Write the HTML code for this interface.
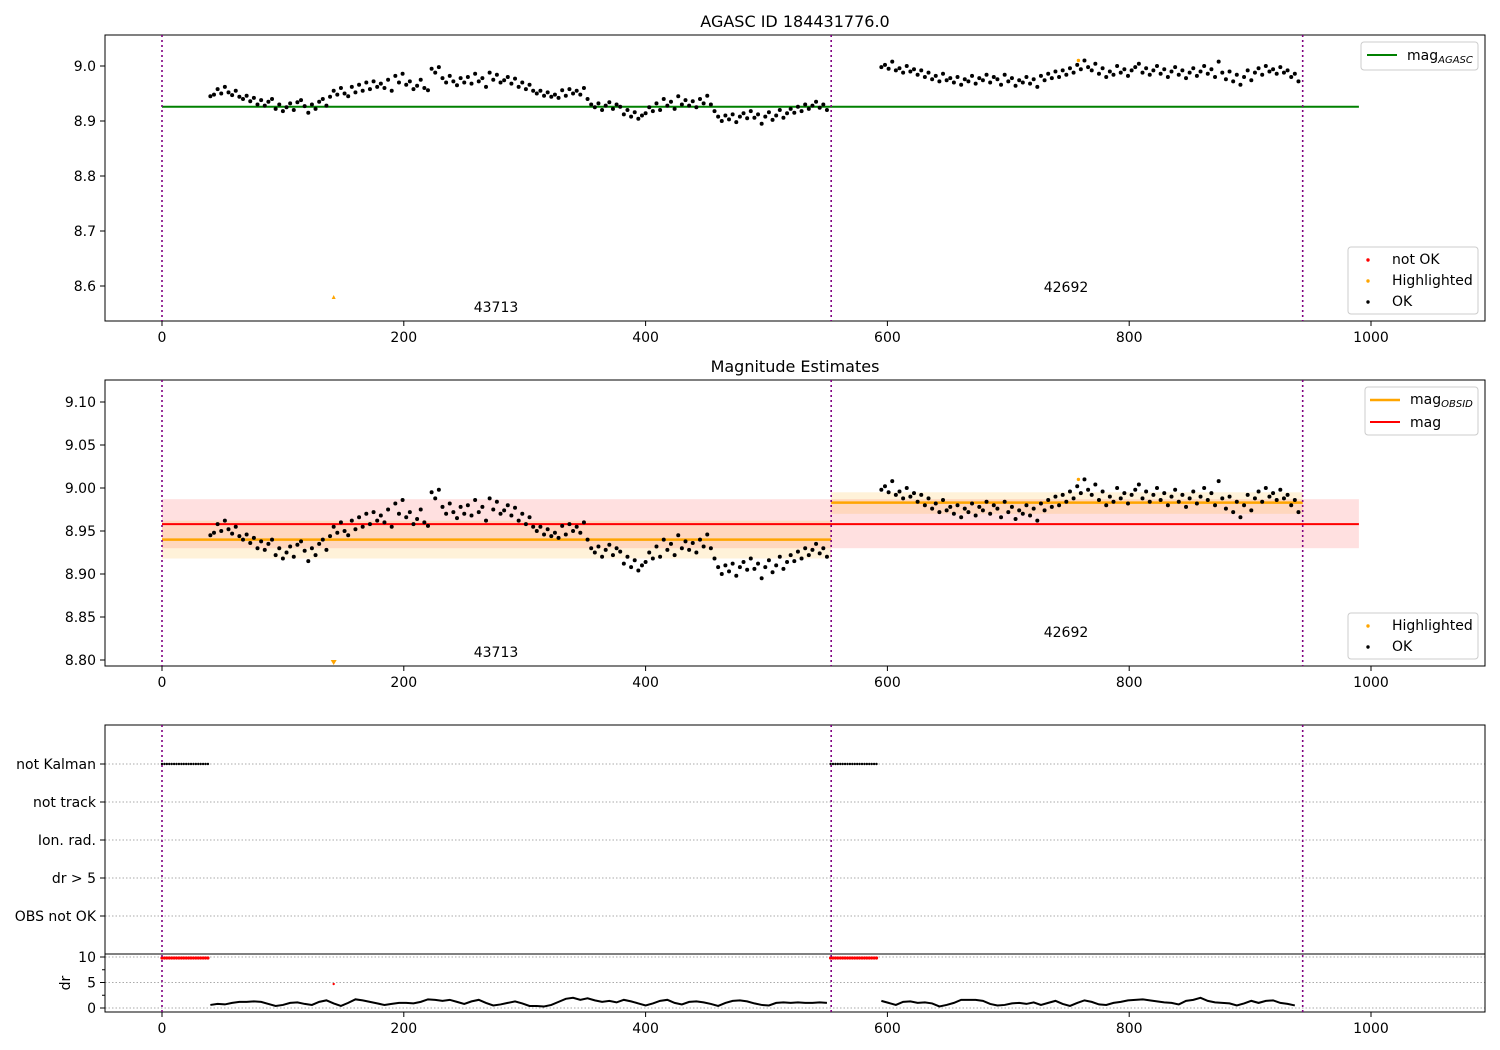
<!DOCTYPE html>
<html><head><meta charset="utf-8"><style>
body{margin:0;background:#fff;}
svg{display:block;font-family:"DejaVu Sans","Liberation Sans",sans-serif;}
</style></head><body>
<svg id="c" width="1500" height="1050" xmlns="http://www.w3.org/2000/svg"></svg>
<script>
// ---- data ----
const obs1Start = 40, obs1Step = 3;
const obs1Mag = [45,48,58,50,62,52,47,55,44,40,46,36,42,30,38,28,35,40,22,30,18,25,32,20,34,38,27,15,30,22,35,40,28,44,55,48,60,50,45,62,52,66,55,70,58,72,62,68,60,75,55,82,70,86,66,72,58,64,75,60,56,95,88,98,78,70,82,72,65,78,70,80,68,86,72,78,62,88,75,84,70,74,80,68,77,62,70,58,66,55,50,55,46,52,44,48,42,56,46,58,50,55,48,60,40,30,25,32,20,28,34,22,30,26,12,20,8,16,4,10,14,25,18,32,20,40,28,35,22,45,30,38,28,36,25,40,32,46,30,18,8,0,10,3,12,-2,8,14,5,18,6,12,-5,8,16,2,10,20,6,14,22,15,26,18,30,22,28,35,24,30,20];
const obs2Start = 595, obs2Step = 3;
const obs2Mag = [98,102,95,108,92,96,88,100,90,94,84,92,80,88,76,82,72,86,74,78,70,80,66,76,72,82,68,78,74,84,70,80,76,66,84,72,78,64,74,70,80,68,76,62,82,74,86,78,90,80,92,84,96,88,102,94,110,98,92,104,86,96,80,90,84,100,88,94,82,92,98,104,88,96,84,92,100,86,94,80,90,98,84,92,78,88,96,82,90,100,86,94,80,108,88,76,90,72,84,66,80,92,74,88,96,84,100,90,94,86,98,88,92,80,86,72];
const drStep = 6;
const obs1Dr = [0.6,0.8,0.7,1.0,1.2,1.2,1.3,1.2,0.8,0.4,0.6,1.0,1.1,0.8,0.6,1.2,1.5,0.9,0.4,1.0,1.7,1.5,1.2,0.9,0.6,0.8,1.0,1.0,0.9,1.2,1.7,1.6,1.4,1.6,1.2,0.8,1.3,1.6,1.0,0.5,0.7,1.0,1.3,0.9,0.4,0.4,0.3,0.6,1.2,1.8,2.0,1.6,1.9,1.5,1.2,1.4,1.1,1.6,1.3,0.9,0.5,0.9,1.4,1.6,1.0,0.7,1.2,1.3,1.1,0.8,0.4,1.0,1.4,1.5,1.3,0.9,0.6,0.5,1.0,1.1,1.0,1.1,1.0,1.0,1.1,1.0];
const obs2Dr = [1.4,1.0,0.6,1.2,1.3,1.0,1.1,0.9,0.3,0.6,1.0,1.6,1.6,1.6,1.4,0.8,0.5,0.6,0.9,1.0,0.8,1.1,0.6,1.0,1.4,0.8,0.4,1.0,1.5,1.2,0.7,0.6,1.0,1.2,1.5,1.6,1.7,1.5,1.3,1.1,1.0,0.7,1.4,1.6,2.0,1.4,1.1,1.0,0.9,0.5,0.9,1.4,1.0,1.4,1.5,1.0,0.8,0.5];
const obsBounds = [0, 553.5, 943.5];
const obsIds = ["43713","42692"];
const magAgasc = 8.926, magMean = 8.958, magLo = 8.930, magHi = 8.987;
const obsMag = [8.940, 8.983], obsLo = [8.918, 8.970], obsHi = [8.962, 8.995];
const xTicks = [0,200,400,600,800,1000];
const y1Ticks = [8.6,8.7,8.8,8.9,9.0];
const y2Ticks = [8.80,8.85,8.90,8.95,9.00,9.05,9.10];
const catLabels = ["not Kalman","not track","Ion. rad.","dr > 5","OBS not OK"];
const drTicks = [0,5,10];
const notKalmanRanges = [[0,38],[553,592]];
const highlight = [142, 758, 9.01];

// ---- helpers ----
const svg = document.getElementById('c');
const NS = 'http://www.w3.org/2000/svg';
function el(tag, attrs, parent){const e=document.createElementNS(NS,tag);for(const k in attrs)e.setAttribute(k,attrs[k]);(parent||svg).appendChild(e);return e;}
function txt(s, attrs, parent){const e=el('text',attrs,parent);e.textContent=s;return e;}
const X = v => 162 + v*1.209;
const Y1 = v => 66 + (9.0-v)*550;
const Y2 = v => 402 + (9.10-v)*860;
const Yd = v => 1008 - v*5.1;
const catY = i => 764 + i*38;

function xAxis(yb, name){
  for(const t of xTicks){
    el('line',{x1:X(t),x2:X(t),y1:yb,y2:yb+5,stroke:'#000'});
    const l=txt(String(t),{x:X(t),y:yb+21,'font-size':14,'text-anchor':'middle'});
    
    
  }
}
function vlines(y0,y1){
  for(const b of obsBounds){
    const l=el('line',{x1:X(b),x2:X(b),y1:y0,y2:y1,stroke:'purple','stroke-width':1.6,'stroke-dasharray':'2,3'});
    
    
  }
}
function scatter(Y, g){
  obs1Mag.forEach((m,i)=>{const c=el('circle',{cx:X(obs1Start+i*obs1Step),cy:Y(8.9+m/1000),r:2,fill:'#000'},g);});
  obs2Mag.forEach((m,i)=>{const c=el('circle',{cx:X(obs2Start+i*obs2Step),cy:Y(8.9+m/1000),r:2,fill:'#000'},g);});
}
function legendBox(x,y,w,h,name){const r=el('rect',{x:x,y:y,width:w,height:h,rx:3,fill:'#fff','fill-opacity':0.8,stroke:'#ccc'});}

// ---- panel 1 ----
const p1 = el('g',{});


txt('AGASC ID 184431776.0',{x:795,y:27,'font-size':16,'text-anchor':'middle'},p1);
el('line',{x1:X(0),x2:X(990),y1:Y1(magAgasc),y2:Y1(magAgasc),stroke:'green','stroke-width':2},p1);
vlines(35,321);
scatter(Y1,p1);
el('circle',{cx:X(highlight[1]),cy:Y1(highlight[2]),r:1.7,fill:'orange'},p1);
el('path',{d:`M${X(highlight[0])-2},${Y1(8.58)+2}L${X(highlight[0])+2},${Y1(8.58)+2}L${X(highlight[0])},${Y1(8.58)-2}Z`,fill:'orange'},p1);
txt(obsIds[0],{x:496,y:312,'font-size':14,'text-anchor':'middle'},p1);
txt(obsIds[1],{x:1066,y:292,'font-size':14,'text-anchor':'middle'},p1);
el('rect',{x:105,y:35,width:1380,height:286,fill:'none',stroke:'#000'},p1);
for(const t of y1Ticks){el('line',{x1:100,x2:105,y1:Y1(t),y2:Y1(t),stroke:'#000'},p1);txt(t.toFixed(1),{x:96,y:Y1(t)+5,'font-size':14,'text-anchor':'end'},p1);}
xAxis(321,'x1');
legendBox(1361,42,117,28,'legend-agasc');
el('line',{x1:1367,x2:1397,y1:55,y2:55,stroke:'green','stroke-width':2});
const lg1=txt('mag',{x:1407,y:60,'font-size':14});const s1=el('tspan',{'font-size':10,'font-style':'italic',dy:3},lg1);s1.textContent='AGASC';
legendBox(1348,247,130,67,'legend-status');
el('circle',{cx:1368,cy:260,r:1.7,fill:'red'});txt('not OK',{x:1392,y:264,'font-size':14});
el('circle',{cx:1368,cy:281,r:1.7,fill:'orange'});txt('Highlighted',{x:1392,y:285,'font-size':14});
el('circle',{cx:1368,cy:302,r:1.7,fill:'#000'});txt('OK',{x:1392,y:306,'font-size':14});

// ---- panel 2 ----
const p2 = el('g',{});


txt('Magnitude Estimates',{x:795,y:372,'font-size':16,'text-anchor':'middle'},p2);
el('rect',{x:X(0),y:Y2(magHi),width:X(990)-X(0),height:Y2(magLo)-Y2(magHi),fill:'red','fill-opacity':0.12},p2);
for(let k=0;k<2;k++){
  el('rect',{x:X(obsBounds[k]),y:Y2(obsHi[k]),width:X(obsBounds[k+1])-X(obsBounds[k]),height:Y2(obsLo[k])-Y2(obsHi[k]),fill:'orange','fill-opacity':0.15},p2);
}
el('line',{x1:X(0),x2:X(990),y1:Y2(magMean),y2:Y2(magMean),stroke:'red','stroke-width':2},p2);
for(let k=0;k<2;k++){
  el('line',{x1:X(obsBounds[k]),x2:X(obsBounds[k+1]),y1:Y2(obsMag[k]),y2:Y2(obsMag[k]),stroke:'orange','stroke-width':2.5},p2);
}
vlines(380,666);
scatter(Y2,p2);
el('circle',{cx:X(highlight[1]),cy:Y2(highlight[2]),r:1.7,fill:'orange'},p2);
el('path',{d:`M${X(highlight[0])-3},660L${X(highlight[0])+3},660L${X(highlight[0])},665Z`,fill:'orange'},p2);
txt(obsIds[0],{x:496,y:657,'font-size':14,'text-anchor':'middle'},p2);
txt(obsIds[1],{x:1066,y:637,'font-size':14,'text-anchor':'middle'},p2);
el('rect',{x:105,y:380,width:1380,height:286,fill:'none',stroke:'#000'},p2);
for(const t of y2Ticks){el('line',{x1:100,x2:105,y1:Y2(t),y2:Y2(t),stroke:'#000'},p2);txt(t.toFixed(2),{x:96,y:Y2(t)+5,'font-size':14,'text-anchor':'end'},p2);}
xAxis(666,'x2');
legendBox(1365,387,113,48,'legend-mag');
el('line',{x1:1370,x2:1400,y1:400,y2:400,stroke:'orange','stroke-width':2.5});
const lg2=txt('mag',{x:1410,y:404,'font-size':14});const s2=el('tspan',{'font-size':10,'font-style':'italic',dy:3},lg2);s2.textContent='OBSID';
el('line',{x1:1370,x2:1400,y1:422,y2:422,stroke:'red','stroke-width':2});
txt('mag',{x:1410,y:427,'font-size':14});
legendBox(1348,613,130,46,'legend-status2');
el('circle',{cx:1368,cy:626,r:1.7,fill:'orange'});txt('Highlighted',{x:1392,y:630,'font-size':14});
el('circle',{cx:1368,cy:647,r:1.7,fill:'#000'});txt('OK',{x:1392,y:651,'font-size':14});

// ---- panel 3 ----
const p3 = el('g',{});


catLabels.forEach((c,i)=>{
  el('line',{x1:105,x2:1485,y1:catY(i),y2:catY(i),stroke:'#aaa','stroke-dasharray':'1.5,2'},p3);
  el('line',{x1:100,x2:105,y1:catY(i),y2:catY(i),stroke:'#000'},p3);
  txt(c,{x:96,y:catY(i)+5,'font-size':14,'text-anchor':'end'},p3);
});
for(const t of drTicks){
  el('line',{x1:105,x2:1485,y1:Yd(t),y2:Yd(t),stroke:'#aaa','stroke-dasharray':'1.5,2'},p3);
  el('line',{x1:100,x2:105,y1:Yd(t),y2:Yd(t),stroke:'#000'},p3);
  txt(String(t),{x:96,y:Yd(t)+5,'font-size':14,'text-anchor':'end'},p3);
}
el('line',{x1:102,x2:105,y1:Yd(7.5),y2:Yd(7.5),stroke:'#000'},p3);
el('line',{x1:102,x2:105,y1:Yd(2.5),y2:Yd(2.5),stroke:'#000'},p3);
txt('dr',{x:0,y:0,'font-size':14,'text-anchor':'middle',transform:`translate(70,983) rotate(-90)`},p3);
vlines(725,1012);
for(const r of notKalmanRanges){
  for(let v=r[0]; v<=r[1]; v+=2){
    el('circle',{cx:X(v),cy:catY(0),r:1.2,fill:'#000'},p3);
    el('circle',{cx:X(v),cy:Yd(9.8),r:1.6,fill:'red'},p3);
  }
}
el('circle',{cx:X(142),cy:Yd(4.7),r:1.2,fill:'red'},p3);
function drSeries(arr, start){
  const pts = arr.map((d,i)=>X(start+i*drStep)+','+Yd(d)).join(' ');
  const pl = el('polyline',{points:pts,fill:'none',stroke:'#000','stroke-width':2},p3);
  
  
}
drSeries(obs1Dr, obs1Start);
drSeries(obs2Dr, obs2Start);
el('rect',{x:105,y:725,width:1380,height:229,fill:'none',stroke:'#000'},p3);
el('rect',{x:105,y:954,width:1380,height:58,fill:'none',stroke:'#000'},p3);
xAxis(1012,'x3');
</script>
</body></html>
